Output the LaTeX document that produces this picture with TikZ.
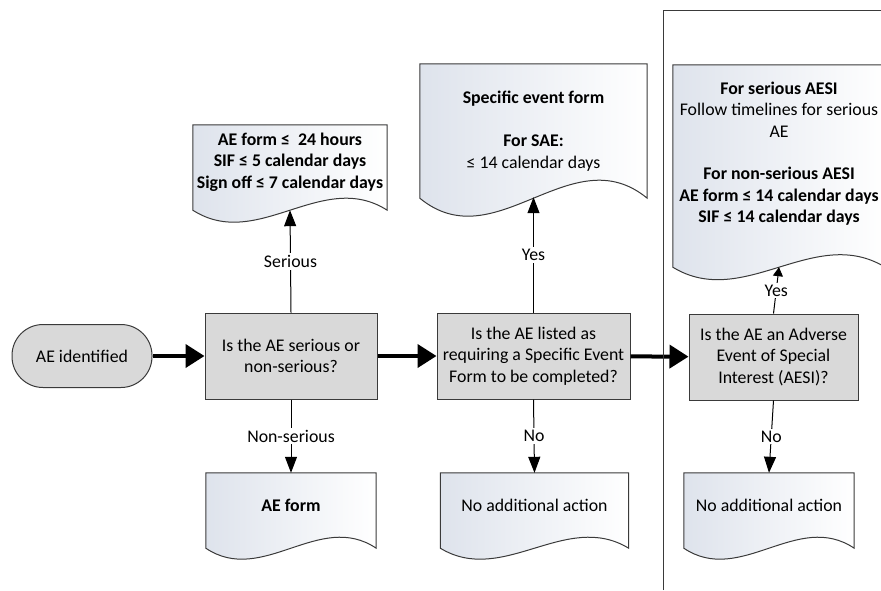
\documentclass[tikz,border=0pt]{standalone}
\usepackage{fontspec}
\setmainfont{Carlito}
\usetikzlibrary{
    arrows.meta,
    calc,
    backgrounds
}

\definecolor{boxgray}{HTML}{D9D9D9}
\definecolor{docshade}{HTML}{DEE3EC}
\definecolor{edgegray}{HTML}{3A3A3A}

\tikzset{
    question/.style={draw=edgegray, fill=boxgray, line width=1pt, minimum width=#1,
        minimum height=86pt, align=center, inner sep=2pt},
    terminal/.style={draw=edgegray, fill=boxgray, line width=1pt, rounded corners=31pt,
        minimum width=140pt, minimum height=63pt},
    docbox/.style={align=center, inner sep=0pt},
    docline/.style={draw=edgegray, line width=1pt, left color=docshade, right color=white},
    flow/.style={line width=4pt, -{Triangle[length=19pt,width=23pt]}},
    branch/.style={line width=1pt, -{Triangle[length=16pt,width=12pt]}},
    shortbranch/.style={line width=1pt, -{Triangle[length=9pt,width=10pt]}},
    lbl/.style={fill=white, inner sep=2pt}
}

% outline of a document shape round a node: #2 = extra drop, #3 = wave height
\newcommand{\docshape}[3]{%
    \draw[docline] let \p1=(#1.north west), \p2=(#1.south east), \n1={(\x2-\x1)/3} in
        (\x1,\y1) -- (\x2,\y1) -- (\x2,\y2-#2)
        .. controls +(-\n1,3.46*#3pt) and +(\n1,-3.46*#3pt) .. (\x1,\y2-#2) -- cycle;}

\begin{document}
\begin{tikzpicture}[x=1pt, y=-1pt, font=\fontsize{17.8pt}{21.5pt}\selectfont]
    \useasboundingbox (0, 0) rectangle (881, 590);

    \node[terminal] (start) at (82, 356) {AE identified};
    \node[question=172pt] (serq) at (291, 356) {Is the AE serious or\\non-serious?};
    \node[question=193pt] (sefq) at (533.5, 356) {Is the AE listed as\\requiring a Specific Event\\Form to be completed?};
    \node[question=169pt] (aesiq) at (773.5, 357) {Is the AE an Adverse\\Event of Special\\Interest (AESI)?};

    \node[docbox, minimum width=194pt, minimum height=74pt] (serdoc) at (290, 162)
        {\textbf{AE form ≤~ 24 hours}\\\textbf{SIF ≤ 5 calendar days}\\\textbf{Sign off ≤ 7 calendar days}};
    \node[docbox, minimum width=227pt, minimum height=134pt] (sefdoc) at (533.5, 131)
        {\textbf{Specific event form}\\[21.5pt]\textbf{For SAE:}\\≤ 14 calendar days};
    \node[docbox, minimum width=212pt, minimum height=177pt] (aesidoc) at (779, 153.5)
        {\textbf{For serious AESI}\\Follow timelines for serious\\AE\\[21pt]\textbf{For non-serious AESI}\\
        \textbf{AE form ≤ 14 calendar days}\\\textbf{SIF ≤ 14 calendar days}};

    \node[docbox, minimum width=170pt, minimum height=64pt] (aedoc) at (291, 505) {\textbf{AE form}};
    \node[docbox, minimum width=188pt, minimum height=64pt] (noactdoc) at (534.5, 505) {No additional action};
    \node[docbox, minimum width=170pt, minimum height=64pt] (noaesidoc) at (769, 505) {No additional action};

    \begin{scope}[on background layer]
        \docshape{serdoc}{11pt}{12}
        \docshape{sefdoc}{0pt}{18}
        \docshape{aesidoc}{25pt}{12.5}
        \docshape{aedoc}{11pt}{11}
        \docshape{noactdoc}{11pt}{11}
        \docshape{noaesidoc}{11pt}{11}
    \end{scope}

    \draw[flow] (start) -- (serq);
    \draw[flow] (serq) -- (sefq);
    \draw[flow] (sefq) -- (aesiq);

    \draw[branch] (serq.north) -- node[lbl] {Serious} ([yshift=-11pt]serdoc.south);
    \draw[branch] (serq.south) -- node[lbl] {Non-serious} (aedoc.north);
    \draw[branch] (sefq.north) -- node[lbl] {Yes} ([yshift=1pt]sefdoc.south);
    \draw[branch] (sefq.south) -- node[lbl] {No} (noactdoc.north);
    \draw[shortbranch] (aesiq.north) -- node[lbl] {Yes} ([yshift=-25pt]aesidoc.south);
    \draw[branch] (aesiq.south) -- node[lbl] {No} (noaesidoc.north);

    \draw[line width=1pt, edgegray] (663, 590) -- (663, 10) -- (890, 10);
\end{tikzpicture}
\end{document}
